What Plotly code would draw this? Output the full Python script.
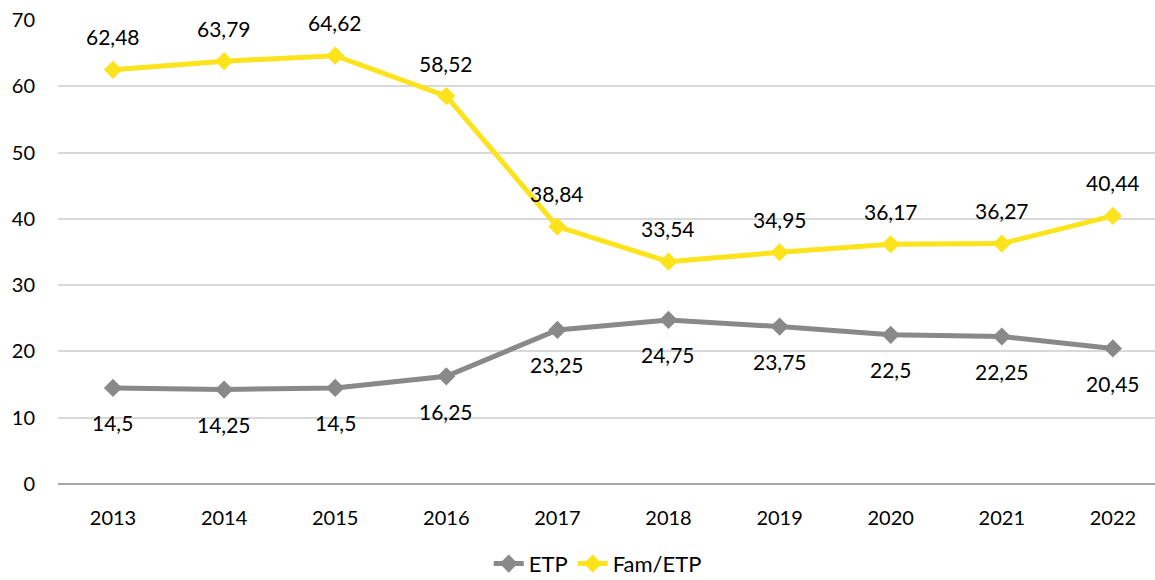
import plotly.graph_objects as go

years = ["2013", "2014", "2015", "2016", "2017", "2018", "2019", "2020", "2021", "2022"]
etp = [14.5, 14.25, 14.5, 16.25, 23.25, 24.75, 23.75, 22.5, 22.25, 20.45]
fam_etp = [62.48, 63.79, 64.62, 58.52, 38.84, 33.54, 34.95, 36.17, 36.27, 40.44]
y_ticks = [0, 10, 20, 30, 40, 50, 60, 70]

GREY = "#898989"
YELLOW = "#FCE31C"
FONT = "Lato, Carlito, Calibri, sans-serif"

xpos = list(range(len(years)))


def fmt(v):
    return str(v).replace(".", ",")


fig = go.Figure()
fig.add_trace(go.Scatter(
    x=xpos, y=etp, name="ETP", mode="lines+markers",
    line=dict(color=GREY, width=5),
    marker=dict(symbol="diamond", size=14, color=GREY),
))
fig.add_trace(go.Scatter(
    x=xpos, y=fam_etp, name="Fam/ETP", mode="lines+markers",
    line=dict(color=YELLOW, width=5),
    marker=dict(symbol="diamond", size=14, color=YELLOW),
))

annotations = []
for i, v in enumerate(etp):
    annotations.append(dict(x=xpos[i], y=v, text=fmt(v), showarrow=False,
                            yshift=-35, font=dict(size=21, color="#000000", family=FONT)))
for i, v in enumerate(fam_etp):
    annotations.append(dict(x=xpos[i], y=v, text=fmt(v), showarrow=False,
                            yshift=33, font=dict(size=21, color="#000000", family=FONT)))

fig.update_layout(
    width=1155, height=580,
    margin=dict(l=58, r=0, t=20, b=96),
    paper_bgcolor="white", plot_bgcolor="white",
    font=dict(family=FONT, size=20, color="#000000"),
    annotations=annotations,
    showlegend=True,
    legend=dict(orientation="h", x=0.492, xanchor="center",
                yref="container", y=0.028, yanchor="middle",
                font=dict(size=22, family=FONT), traceorder="normal"),
    xaxis=dict(
        range=[-0.495, 9.379], tickmode="array", tickvals=xpos, ticktext=years,
        showgrid=False, zeroline=False, showline=False, ticks="",
        ticklabelstandoff=20, fixedrange=True,
    ),
    yaxis=dict(
        range=[0, 70], tickmode="array", tickvals=y_ticks,
        showgrid=True, gridcolor="#D9D9D9", gridwidth=1.5,
        zeroline=True, zerolinecolor="#A6A6A6", zerolinewidth=2,
        showline=False, ticks="", ticklabelstandoff=22, fixedrange=True,
    ),
)

fig.write_html("out.html")
